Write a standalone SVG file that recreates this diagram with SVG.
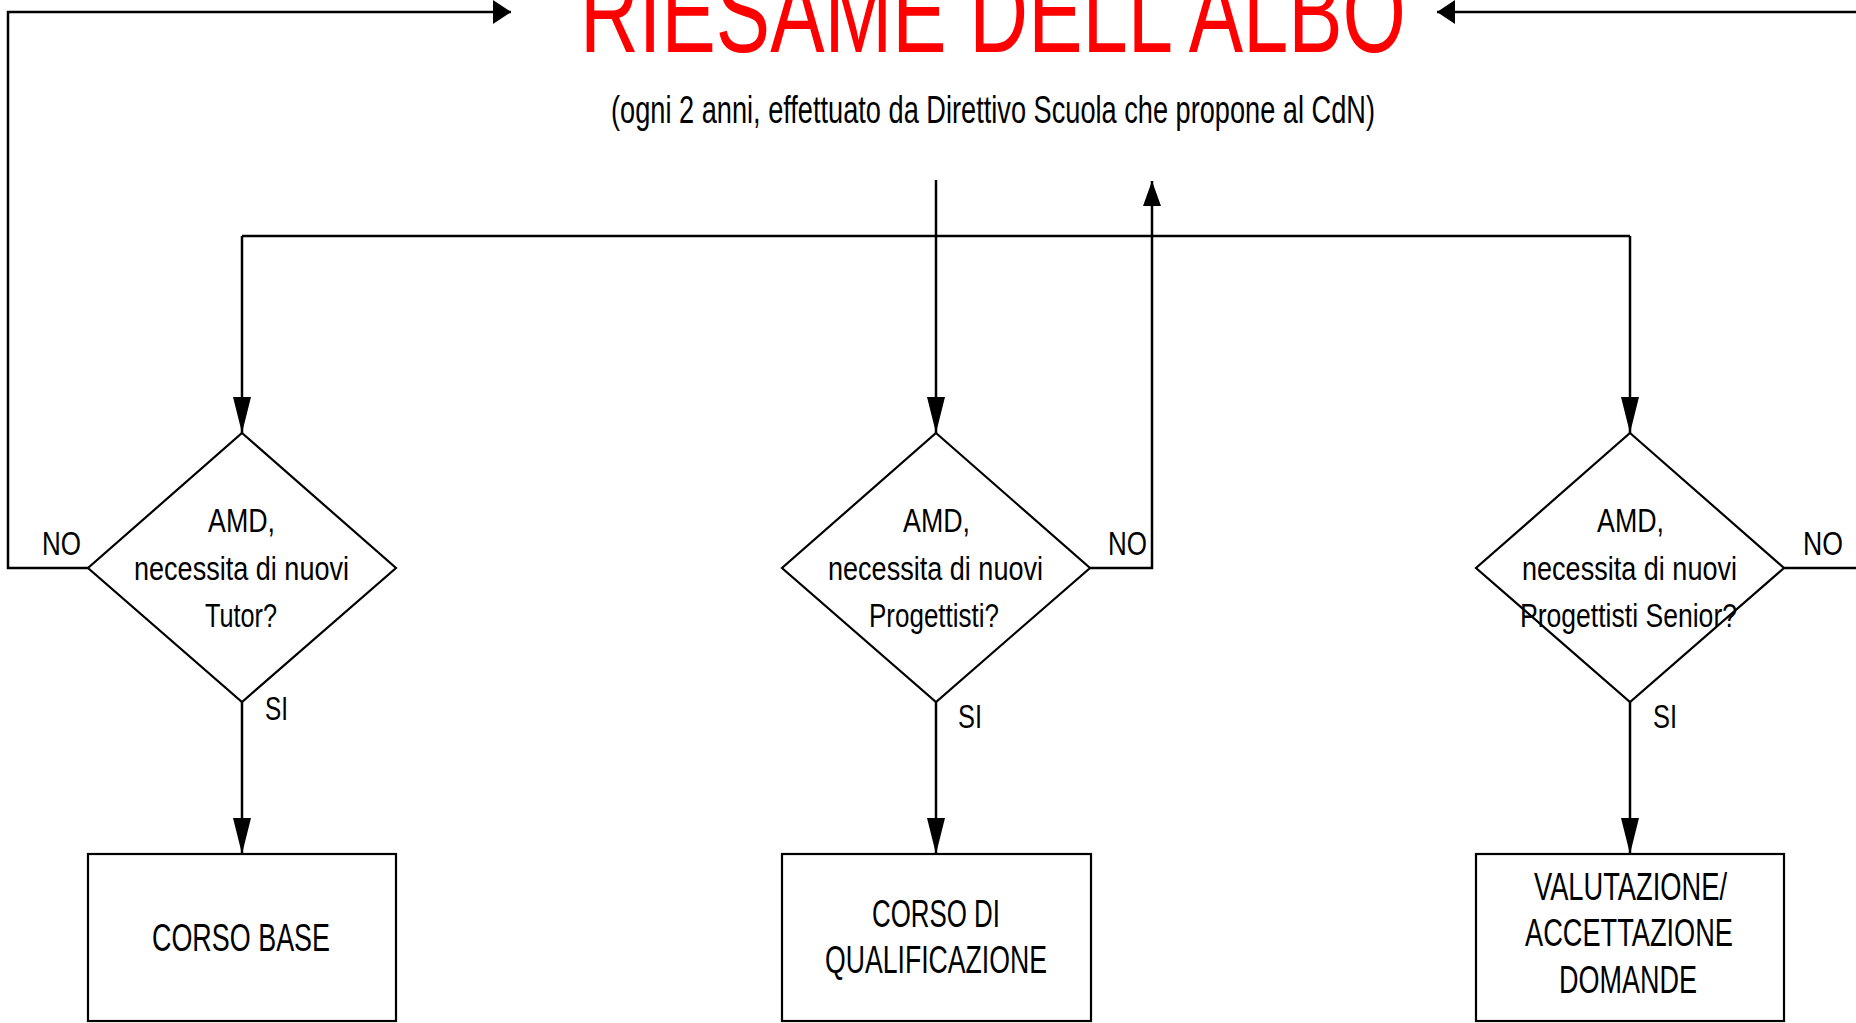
<svg xmlns="http://www.w3.org/2000/svg" width="1856" height="1023" viewBox="0 0 1856 1023">
<style>
  .shape { fill: #ffffff; stroke: #000000; stroke-width: 2.2; }
  .line { fill: none; stroke: #000000; stroke-width: 2.5; }
  .t { font-family: "Liberation Sans", Arial, sans-serif; fill: #000000; }
  .dt { font-size: 32.5px; }
  .rt { font-size: 38px; }
  .lbl { font-size: 34px; }
  .title { font-family: "Liberation Sans", Arial, sans-serif; font-size: 115px; fill: #ff0000; }
  .sub { font-size: 38px; }
</style>
<defs>
  <marker id="aLong" markerUnits="userSpaceOnUse" viewBox="0 0 36 18" markerWidth="36" markerHeight="18" refX="36" refY="9" orient="auto">
    <path d="M0,0 L36,9 L0,18 Z" fill="#000"/>
  </marker>
  <marker id="aShort" markerUnits="userSpaceOnUse" viewBox="0 0 25 18" markerWidth="25" markerHeight="18" refX="25" refY="9" orient="auto">
    <path d="M0,0 L25,9 L0,18 Z" fill="#000"/>
  </marker>
  <marker id="aHoriz" markerUnits="userSpaceOnUse" viewBox="0 0 18 24" markerWidth="18" markerHeight="24" refX="18" refY="12" orient="auto">
    <path d="M0,0 L18,12 L0,24 Z" fill="#000"/>
  </marker>
</defs>
<rect x="0" y="0" width="1856" height="1023" fill="#ffffff"/>

<g id="title">
  <text class="title" x="580" y="52" textLength="826" lengthAdjust="spacingAndGlyphs">RIESAME DELL'ALBO</text>
  <text class="t sub" x="611" y="123" textLength="764" lengthAdjust="spacingAndGlyphs">(ogni 2 anni, effettuato da Direttivo Scuola che propone al CdN)</text>
</g>

<g id="connectors">
  <path class="line" d="M936,180 V433" marker-end="url(#aLong)"/>
  <path class="line" d="M242,236 H1630"/>
  <path class="line" d="M242,236 V433" marker-end="url(#aLong)"/>
  <path class="line" d="M1630,236 V433" marker-end="url(#aLong)"/>
  <path class="line" d="M89,568 H8 V12 H511" marker-end="url(#aHoriz)"/>
  <path class="line" d="M1090,568 H1152 V181" marker-end="url(#aShort)"/>
  <path class="line" d="M1784,568 H1875 V12 H1437" marker-end="url(#aHoriz)"/>
  <path class="line" d="M242,702 V854" marker-end="url(#aLong)"/>
  <path class="line" d="M936,702 V854" marker-end="url(#aLong)"/>
  <path class="line" d="M1630,702 V854" marker-end="url(#aLong)"/>
  <text class="t lbl" x="42" y="555" textLength="39" lengthAdjust="spacingAndGlyphs">NO</text>
  <text class="t lbl" x="265" y="720" textLength="23" lengthAdjust="spacingAndGlyphs">SI</text>
  <text class="t lbl" x="1108" y="555" textLength="39" lengthAdjust="spacingAndGlyphs">NO</text>
  <text class="t lbl" x="958" y="728" textLength="24" lengthAdjust="spacingAndGlyphs">SI</text>
  <text class="t lbl" x="1803" y="555" textLength="40" lengthAdjust="spacingAndGlyphs">NO</text>
  <text class="t lbl" x="1653" y="728" textLength="24" lengthAdjust="spacingAndGlyphs">SI</text>
</g>

<g id="decision-tutor">
  <path class="shape" d="M242,433 L396,568 L242,702 L88,568 Z"/>
  <text class="t dt" x="208" y="532" textLength="67" lengthAdjust="spacingAndGlyphs">AMD,</text>
  <text class="t dt" x="134" y="580" textLength="215" lengthAdjust="spacingAndGlyphs">necessita di nuovi</text>
  <text class="t dt" x="205" y="627" textLength="72" lengthAdjust="spacingAndGlyphs">Tutor?</text>
</g>

<g id="decision-progettisti">
  <path class="shape" d="M936,433 L1090,568 L936,702 L782,568 Z"/>
  <text class="t dt" x="903" y="532" textLength="67" lengthAdjust="spacingAndGlyphs">AMD,</text>
  <text class="t dt" x="828" y="580" textLength="215" lengthAdjust="spacingAndGlyphs">necessita di nuovi</text>
  <text class="t dt" x="869" y="627" textLength="130" lengthAdjust="spacingAndGlyphs">Progettisti?</text>
</g>

<g id="decision-senior">
  <path class="shape" d="M1630,433 L1784,568 L1630,702 L1476,568 Z"/>
  <text class="t dt" x="1597" y="532" textLength="67" lengthAdjust="spacingAndGlyphs">AMD,</text>
  <text class="t dt" x="1522" y="580" textLength="215" lengthAdjust="spacingAndGlyphs">necessita di nuovi</text>
  <text class="t dt" x="1520" y="627" textLength="217" lengthAdjust="spacingAndGlyphs">Progettisti Senior?</text>
</g>

<g id="corso-base">
  <rect class="shape" x="88" y="854" width="308" height="167"/>
  <text class="t rt" x="152" y="951" textLength="178" lengthAdjust="spacingAndGlyphs">CORSO BASE</text>
</g>

<g id="corso-qualificazione">
  <rect class="shape" x="782" y="854" width="309" height="167"/>
  <text class="t rt" x="872" y="927" textLength="128" lengthAdjust="spacingAndGlyphs">CORSO DI</text>
  <text class="t rt" x="825" y="973" textLength="222" lengthAdjust="spacingAndGlyphs">QUALIFICAZIONE</text>
</g>

<g id="valutazione">
  <rect class="shape" x="1476" y="854" width="308" height="167"/>
  <text class="t rt" x="1534" y="900" textLength="193" lengthAdjust="spacingAndGlyphs">VALUTAZIONE/</text>
  <text class="t rt" x="1525" y="946" textLength="208" lengthAdjust="spacingAndGlyphs">ACCETTAZIONE</text>
  <text class="t rt" x="1559" y="993" textLength="138" lengthAdjust="spacingAndGlyphs">DOMANDE</text>
</g>
</svg>
